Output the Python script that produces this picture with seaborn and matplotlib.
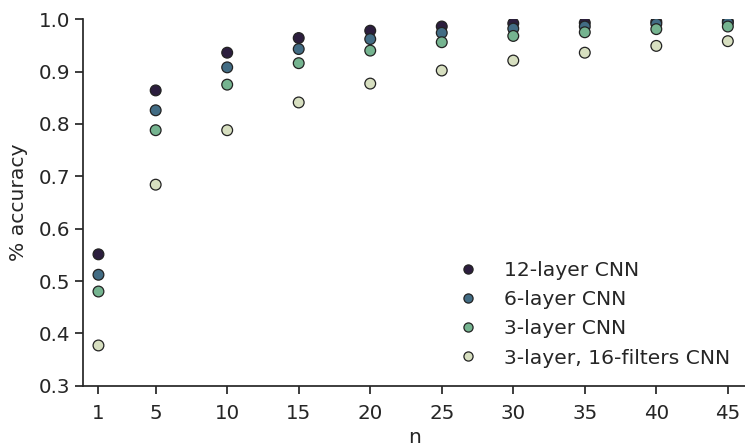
import pandas as pd
import matplotlib
matplotlib.use('Agg')
import matplotlib.pyplot as plt
import seaborn as sns

# n values (x axis)
n_values = [1, 5, 10, 15, 20, 25, 30, 35, 40, 45]

# accuracy for each model
acc_12_layer = [0.551, 0.864, 0.936, 0.964, 0.978, 0.986, 0.992, 0.993, 0.995, 0.996]
acc_6_layer = [0.512, 0.826, 0.908, 0.943, 0.962, 0.974, 0.982, 0.986, 0.991, 0.993]
acc_3_layer = [0.480, 0.788, 0.875, 0.916, 0.940, 0.956, 0.968, 0.975, 0.981, 0.986]
acc_3_layer_16f = [0.377, 0.684, 0.788, 0.841, 0.877, 0.902, 0.921, 0.936, 0.949, 0.958]

model_names = ['12-layer CNN', '6-layer CNN', '3-layer CNN', '3-layer, 16-filters CNN']
y_ticks = [0.3, 0.4, 0.5, 0.6, 0.7, 0.8, 0.9, 1.0]

# Build a long table for seaborn
rows = []
for name, accs in zip(model_names, [acc_12_layer, acc_6_layer, acc_3_layer, acc_3_layer_16f]):
    for n, a in zip(n_values, accs):
        rows.append({'n': n, 'accuracy': a, 'model': name})
df = pd.DataFrame(rows)

sns.set_theme(style='ticks', context='notebook')
plt.rcParams['font.family'] = ['DejaVu Sans']
plt.rcParams['xtick.labelsize'] = 14.3
plt.rcParams['ytick.labelsize'] = 14.3
plt.rcParams['axes.labelsize'] = 14.6
plt.rcParams['legend.fontsize'] = 14.6
plt.rcParams['xtick.major.pad'] = 7
palette = sns.cubehelix_palette(4, start=.5, rot=-.75, reverse=True)

fig = plt.figure(figsize=(7.45, 4.46), dpi=100)
ax = fig.add_axes([0.112, 0.135, 0.888, 0.822])

sns.scatterplot(data=df, x='n', y='accuracy', hue='model', hue_order=model_names,
                palette=palette, s=60, edgecolor='#222222', linewidth=0.9, ax=ax, zorder=3)

ax.set_xlim(-0.05, 46.2)
ax.set_ylim(0.3, 1.0)
ax.set_xticks(n_values)
ax.set_yticks(y_ticks)
ax.set_xlabel('n', labelpad=4)
ax.set_ylabel('% accuracy', labelpad=8)
sns.despine(ax=ax)

leg = ax.legend(loc='lower right', frameon=False, title=None,
                bbox_to_anchor=(1.005, 0.0), markerscale=0.85, handletextpad=0.75)

plt.savefig('out.png', dpi=100)
plt.close()
